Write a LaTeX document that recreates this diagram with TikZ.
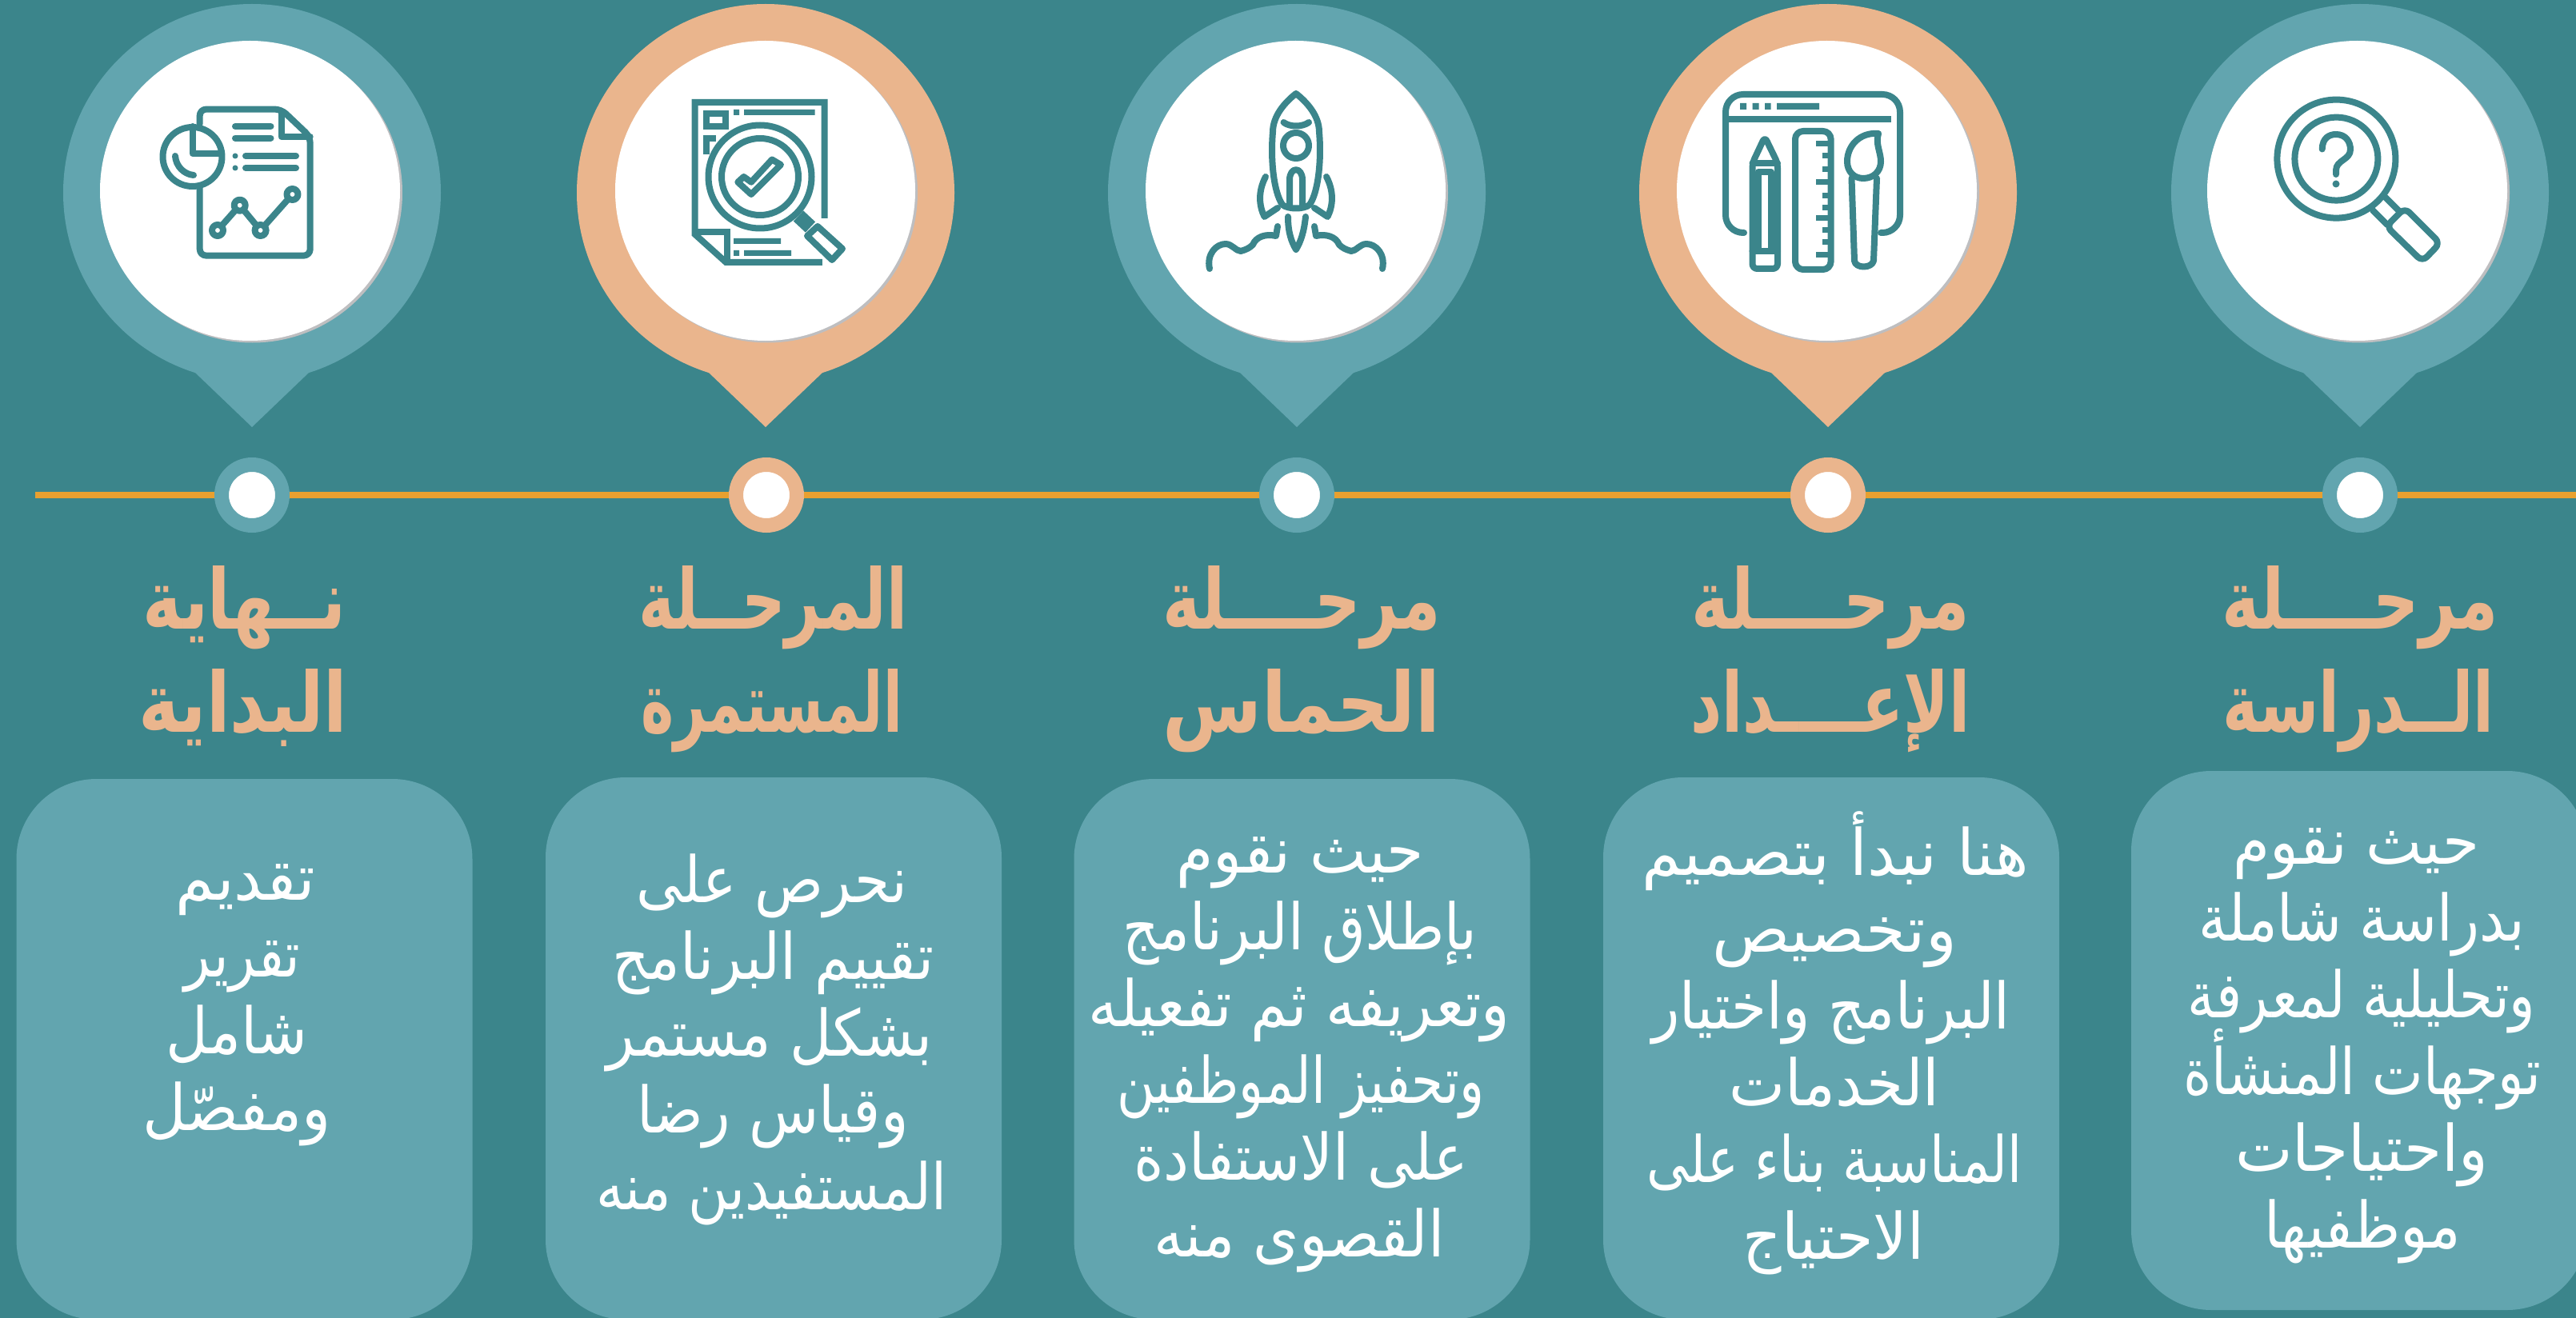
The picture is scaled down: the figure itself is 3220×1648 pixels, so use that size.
\documentclass[tikz,border=0pt]{standalone}
\usepackage{fontspec}
\usepackage{graphicx}
\TeXXeTstate=1
\newfontfamily\arb[Script=Arabic]{DejaVu Sans}
\definecolor{bgteal}{RGB}{59,133,139}
\definecolor{lteal}{RGB}{98,165,175}
\definecolor{peach}{RGB}{234,181,141}
\definecolor{linecol}{RGB}{232,160,48}
\definecolor{shadowc}{RGB}{190,190,192}
% width in px, horizontal shift in px, text
\newcommand{\rl}[3]{\strut\kern #2pt\resizebox{#1\dimexpr 0.5pt\relax}{\height}{#3}}
\tikzset{
  infobox/.style={rectangle,rounded corners=50pt,inner sep=0pt,minimum width=285pt,fill=lteal},
  dotnode/.style={circle,inner sep=0pt,line width=9pt,draw=#1,fill=white,minimum size=38pt},
  headtext/.style={inner sep=0pt,align=center,text=peach,font=\arb\bfseries\fontsize{52}{64.5}\selectfont},
  bodytext/.style={inner sep=0pt,align=center,text=white,font=\arb\fontsize{40}{48}\selectfont},
  icon/.style={draw=bgteal,line width=4pt,line cap=round,line join=round},
  iconb/.style={draw=bgteal,line width=4pt,line cap=butt,line join=miter},
}
\newcommand{\pin}[4]{% name, centre x, white-circle x, colour
  \fill[#4] (#2,241) circle[radius=236];
  \fill[#4] (#2-71,466) -- (#2,534) -- (#2+71,466) -- cycle;
  \fill[shadowc] (#3+1.5,241) circle[radius=187.5];
  \fill[white] (#3-1.5,238.5) circle[radius=187.5];
}
\begin{document}
\begin{tikzpicture}[x=0.5pt,y=-0.5pt]
\lineskiplimit=-200pt
\useasboundingbox (0,0) rectangle (3220,1648);
\clip (0,0) rectangle (3220,1648);
\fill[bgteal] (0,0) rectangle (3220,1648);

% pins
\pin{a}{2950}{2948}{lteal}
\pin{b}{2285}{2285}{peach}
\pin{c}{1621}{1621}{lteal}
\pin{d}{957}{958}{peach}
\pin{e}{315}{314}{lteal}

% timeline
\coordinate (tlstart) at (44,619);
\coordinate (tlend) at (3225,619);
\node[dotnode=lteal] (d1) at (2950,619) {};
\node[dotnode=peach] (d2) at (2285,619) {};
\node[dotnode=lteal] (d3) at (1621,619) {};
\node[dotnode=peach] (d4) at (958,619) {};
\node[dotnode=lteal] (d5) at (315,619) {};
\draw[linecol,line width=4pt] (tlstart) -- (d5);
\draw[linecol,line width=4pt] (d5) -- (d4);
\draw[linecol,line width=4pt] (d4) -- (d3);
\draw[linecol,line width=4pt] (d3) -- (d2);
\draw[linecol,line width=4pt] (d2) -- (d1);
\draw[linecol,line width=4pt] (d1) -- (tlend);

% info boxes
\node[infobox,minimum height=337pt] (box1) at (2949,1301) {};
\node[infobox,minimum height=339pt] (box2) at (2289,1311) {};
\node[infobox,minimum height=338pt] (box3) at (1627.5,1312) {};
\node[infobox,minimum height=339pt] (box4) at (967,1311) {};
\node[infobox,minimum height=338pt] (box5) at (305.5,1312) {};

% headings
\node[headtext] (h1) at (2949,825) {\rl{346}{1}{\beginR مرحــــلة\endR}\\\rl{339}{-1}{\beginR الــدراسة\endR}};
\node[headtext] (h2) at (2288,825) {\rl{347}{0}{\beginR مرحــــلة\endR}\\\rl{349}{0}{\beginR الإعــــداد\endR}};
\node[headtext] (h3) at (1627,825) {\rl{347}{0}{\beginR مرحــــلة\endR}\\\rl{347}{0}{\beginR الحماس\endR}};
\node[headtext] (h4) at (965.5,825) {\rl{336}{1}{\beginR المرحــلة\endR}\\\rl{327}{-1}{\beginR المستمرة\endR}};
\node[headtext] (h5) at (305,825) {\rl{254}{1}{\beginR نــهاية\endR}\\\rl{261}{-1}{\beginR البداية\endR}};

% bodies
\node[bodytext] (t1) at (2953,1301) {\rl{308}{-8}{\beginR حيث نقوم\endR}\\\rl{408}{-1}{\beginR بدراسة شاملة\endR}\\\rl{435}{-1}{\beginR وتحليلية لمعرفة\endR}\\\rl{447}{0}{\beginR توجهات المنشأة\endR}\\\rl{316}{-1}{\beginR واحتياجات\endR}\\\rl{246}{0}{\beginR موظفيها\endR}};
\node[bodytext] (t2) at (2293,1309) {\rl{484}{1}{\beginR هنا نبدأ بتصميم\endR}\\\rl{306}{0}{\beginR وتخصيص\endR}\\\rl{447}{-4}{\beginR البرنامج واختيار\endR}\\\rl{263}{0}{\beginR الخدمات\endR}\\\rl{470}{0}{\beginR المناسبة بناء على\endR}\\\rl{227}{-1}{\beginR الاحتياج\endR}};
\node[bodytext] (t3) at (1625,1312) {\rl{310}{0}{\beginR حيث نقوم\endR}\\\rl{443}{0}{\beginR بإطلاق البرنامج\endR}\\\rl{527}{-1}{\beginR وتعريفه ثم تفعيله\endR}\\\rl{459}{1}{\beginR وتحفيز الموظفين\endR}\\\rl{418}{1}{\beginR على الاستفادة\endR}\\\rl{363}{-1}{\beginR القصوى منه\endR}};
\node[bodytext] (t4) at (965,1301) {\rl{339}{0}{\beginR نحرص على\endR}\\\rl{402}{1}{\beginR تقييم البرنامج\endR}\\\rl{407}{-3}{\beginR بشكل مستمر\endR}\\\rl{339}{1}{\beginR وقياس رضا\endR}\\\rl{438}{-1}{\beginR المستفيدين منه\endR}};
\node[bodytext] (t5) at (300,1250) {\rl{175}{7}{\beginR تقديم\endR}\\\rl{145}{3}{\beginR تقرير\endR}\\\rl{177}{-4}{\beginR شامل\endR}\\\rl{236}{-4}{\beginR ومفصّل\endR}};

% ---- icon 1: magnifier with question mark
\draw[icon] (2920.4,198.6) circle[radius=74];
\draw[icon] (2920.4,198.6) circle[radius=52];
\draw[icon] (2902.7,186.5) .. controls (2903,172) and (2912,168) .. (2920,168)
  .. controls (2932,168) and (2938,177) .. (2938,187)
  .. controls (2938,200) and (2920,200) .. (2920,213) -- (2920,218);
\fill[bgteal] (2920,230) circle[radius=4.5];
\draw[icon,rounded corners=4pt] (3006,260) -- (3050,304) -- (3028,327) -- (2983,283) -- cycle;
\draw[icon] (2982,247) -- (3000,265);
\draw[icon] (2966,263) -- (2984,281);

% ---- icon 2: window, pencil, ruler, brush
\draw[icon,rounded corners=11pt] (2180,291) -- (2157,291) -- (2157,118) -- (2375,118) -- (2375,291) -- (2351,291);
\draw[iconb] (2161,149) -- (2364,149);
\fill[bgteal] (2175,129) rectangle (2183,137) (2190.5,129) rectangle (2198.7,137) (2206,129) rectangle (2213.5,137) (2221,129) rectangle (2274,137);
\draw[icon,rounded corners=3pt] (2190.5,336) -- (2190.5,204) -- (2206,171) -- (2222,204) -- (2222,336) -- cycle;
\draw[icon] (2190.5,204) -- (2222,204);
\draw[icon] (2198,314) -- (2198,215) -- (2214,215) -- (2214,314);
\draw[icon] (2190.5,314) -- (2222,314);
\draw[icon,rounded corners=5pt] (2244,164) rectangle (2288.6,337);
\foreach \ty/\tx in {180/2270,195/2278,212/2278,228/2270,245/2278,260/2278,273/2270,288/2278,303/2278,319/2270}
  \draw[iconb,line width=3.5pt] (\tx,\ty) -- (2288,\ty);
\draw[icon] (2348,167) .. controls (2325,165) and (2309,182) .. (2309,202)
  .. controls (2309,215) and (2318,223) .. (2329,223)
  .. controls (2342,223) and (2351,214) .. (2351,202)
  .. controls (2351,190) and (2344,180) .. (2348,167);
\draw[icon] (2314.5,223) -- (2318,326) .. controls (2319,336) and (2340,336) .. (2342,326) -- (2346,223);

% ---- icon 3: rocket
\draw[icon] (1620,117) .. controls (1606,128) and (1591,145) .. (1591,165)
  .. controls (1588,200) and (1592,240) .. (1603,256)
  .. controls (1610,262) and (1630,262) .. (1637,256)
  .. controls (1648,240) and (1652,200) .. (1649,165)
  .. controls (1649,145) and (1634,128) .. (1620,117);
\draw[icon] (1604.5,153) .. controls (1612,159) and (1628,159) .. (1636,153);
\draw[icon] (1620,182) circle[radius=16];
\draw[icon] (1612,258) -- (1612,225) .. controls (1612,208) and (1628,208) .. (1628,225) -- (1628,258);
\draw[icon] (1582,221) .. controls (1572,240) and (1574,258) .. (1580.5,271) -- (1597,260);
\draw[icon] (1658,221) .. controls (1668,240) and (1666,258) .. (1659.5,271) -- (1643,260);
\draw[icon] (1610,271) .. controls (1610,290) and (1614,302) .. (1620,312) .. controls (1626,302) and (1630,290) .. (1632,271);
\draw[icon] (1512,336) .. controls (1508,318) and (1520,305) .. (1532,305)
  .. controls (1540,305) and (1545,314) .. (1551,314)
  .. controls (1558,312) and (1562,310) .. (1566,306)
  .. controls (1570,296) and (1582,292) .. (1595,295) -- (1597,283);
\draw[icon] (1728,336) .. controls (1732,318) and (1720,305) .. (1708,305)
  .. controls (1700,305) and (1695,314) .. (1689,314)
  .. controls (1682,312) and (1678,310) .. (1674,306)
  .. controls (1670,296) and (1658,292) .. (1645,295) -- (1643,283);

% ---- icon 4: document and magnifier with check
\draw[iconb] (1030.7,273) -- (1030.7,128) -- (868.7,128) -- (868.7,293) -- (907.5,328) -- (1027.8,328);
\draw[iconb] (868.7,290) -- (908.6,290) -- (908.6,328);
\draw[iconb] (882.7,142) rectangle (906.8,158);
\draw[iconb] (894.6,173.5) -- (882.7,173.5) -- (882.7,193);
\fill[bgteal] (917,137) rectangle (924,144) (930,137) rectangle (1018.5,144);
\fill[bgteal] (917,298) rectangle (976,305) (917,313) rectangle (924,320) (930,313) rectangle (989,320);
\filldraw[icon,fill=white] (950,221) circle[radius=64.5];
\draw[icon] (950,221) circle[radius=48];
\draw[icon] (922.3,227.7) -- (939,243) -- (976,206) -- (965,199.5) -- (939,227.7) -- (929.7,221) -- cycle;
\draw[iconb,line width=9pt] (998,270) -- (1013,284);
\filldraw[icon,fill=white] (1022,283) -- (1053,311) -- (1040,325) -- (1009,295) -- cycle;

% ---- icon 5: report with pie and line chart
\draw[icon,rounded corners=4pt] (249.7,155) -- (249.7,136.6) -- (351.5,136.6) -- (387.7,171) -- (387.7,319.6) -- (249.7,319.6) -- (249.7,235);
\draw[icon] (351.5,139) -- (351.5,171) -- (387.7,171);
\draw[icon] (240.5,196) circle[radius=37];
\draw[icon] (240.5,158) -- (240.5,192) -- (275.6,192);
\draw[icon] (219,195) .. controls (220,208) and (230,218) .. (242,219);
\draw[icon] (294,158) -- (338.5,158);
\draw[icon] (294,172.6) -- (338.5,172.6);
\draw[icon] (307,195) -- (370,195);
\draw[icon] (307,210) -- (370,210);
\fill[bgteal] (294,195) circle[radius=3.5] (294,210) circle[radius=3.5];
\draw[icon] (272,288) -- (299.7,256.7) -- (325.6,288) -- (365.5,243);
\filldraw[icon,fill=white] (272,288) circle[radius=7] (299.7,256.7) circle[radius=7] (325.6,288) circle[radius=7] (365.5,243) circle[radius=7];
\end{tikzpicture}
\end{document}
